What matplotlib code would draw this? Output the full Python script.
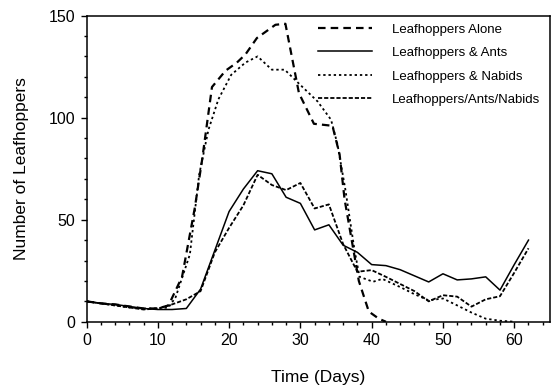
import matplotlib
matplotlib.use("Agg")
import matplotlib.pyplot as plt
from matplotlib.ticker import MultipleLocator

plt.rcParams["font.family"] = ["Liberation Sans", "DejaVu Sans"]

# values (days, number of leafhoppers)
days_alone = [0, 2, 4, 6, 8, 10, 11.5, 13.4, 15.2, 16.2, 17.6, 19.5, 21.1, 22.3,
              23.9, 26.5, 27.9, 29.8, 31.9, 34.5, 35.5, 36.2, 37.3, 38.2, 39.6,
              41, 42]
alone = [10, 9, 8.5, 7.5, 6.5, 6.5, 8, 22, 56, 79, 115, 123, 127, 131,
         139, 145.5, 146, 112, 97, 96, 82, 60, 38, 20, 5, 1.5, 0]

days_ants = [0, 2, 4, 6, 8, 10, 12, 14, 16, 18, 20, 22, 24, 26, 28, 30, 32,
             34, 36, 38, 40, 42, 44, 46, 48, 50, 52, 54, 56, 58, 60, 62]
ants = [10, 9, 8.5, 7.5, 6.5, 6, 6, 6.5, 16, 35, 54, 65, 74, 72.5, 61, 58,
        45, 47.5, 37.5, 34, 28, 27.5, 25.5, 22.5, 19.5, 23.5, 20.5, 21, 22,
        15.5, 28, 40]

days_nabids = [0, 2, 4, 6, 8, 10, 11.5, 12.5, 14.5, 15.8, 17.1, 18.5, 20.3,
               22.3, 24, 26, 27.8, 30, 32.4, 34.3, 35.2, 36.3, 37.6, 38.3,
               40.2, 41.5, 44, 46, 48, 50, 52, 54, 56, 58, 60]
nabids = [10, 9, 8, 7, 6.5, 6.5, 7, 12, 33, 72, 94, 109, 121, 127, 130, 123.5,
          123.5, 116, 108, 99, 87, 65, 35, 22, 19.6, 21, 17, 13.5, 10.5, 11.4,
          8, 4.5, 1.5, 0.5, 0]

days_all = [0, 2, 4, 6, 8, 10, 12, 14, 16, 18, 20, 22, 24, 26, 28, 30, 32,
            34, 36, 38, 40, 42, 44, 46, 48, 50, 52, 54, 56, 58, 60, 62]
ants_nabids = [10, 9, 8, 7, 6, 6.5, 8.5, 11, 15, 34, 46, 57, 72, 67, 64.5, 68,
               55.5, 57.5, 38, 24.5, 25.3, 22, 18.5, 15, 10, 13, 12.3, 7.4,
               11, 12.5, 24, 36]

fig = plt.figure(figsize=(5.56, 3.90), dpi=100)
ax = fig.add_axes([0.1556, 0.175, 0.8334, 0.785])

ax.plot(days_alone, alone, color="black", lw=1.6, dashes=(3.4, 2.3),
        label="Leafhoppers Alone")
ax.plot(days_ants, ants, color="black", lw=1.1, label="Leafhoppers & Ants")
ax.plot(days_nabids, nabids, color="black", lw=1.3, dashes=(1.3, 1.6),
        label="Leafhoppers & Nabids")
ax.plot(days_all, ants_nabids, color="black", lw=1.3, dashes=(2.3, 1.1),
        label="Leafhoppers/Ants/Nabids")

ax.set_xlim(0, 65)
ax.set_ylim(0, 150)
ax.xaxis.set_major_locator(MultipleLocator(10))
ax.xaxis.set_minor_locator(MultipleLocator(2))
ax.yaxis.set_major_locator(MultipleLocator(50))
ax.yaxis.set_minor_locator(MultipleLocator(10))
ax.tick_params(which="major", length=4.5, width=1.0, labelsize=11.5,
               direction="out", color="black")
ax.tick_params(which="minor", length=2.5, width=1.0, direction="out")
for sp in ax.spines.values():
    sp.set_linewidth(1.1)

ax.set_xlabel("Time (Days)", fontsize=12.5, labelpad=16)
ax.set_ylabel("Number of Leafhoppers", fontsize=12.5, labelpad=14)

ax.legend(loc="upper left", bbox_to_anchor=(0.572, 0.940),
          bbox_transform=fig.transFigure, frameon=False, fontsize=9.5,
          handlelength=4.1, handletextpad=1.5, labelspacing=0.85,
          borderpad=0, borderaxespad=0)

fig.savefig("out.png", dpi=100)
